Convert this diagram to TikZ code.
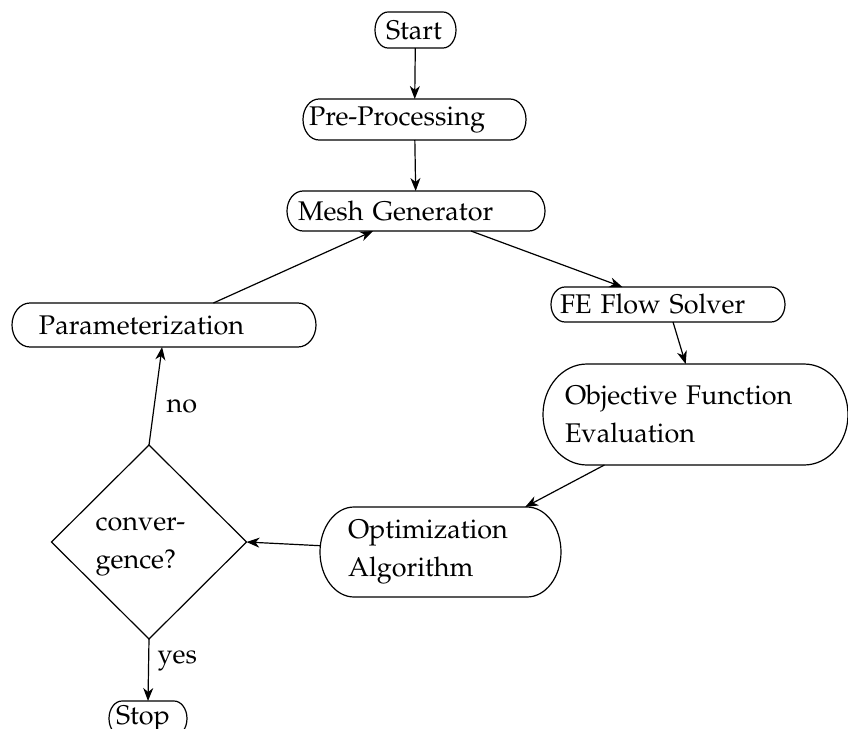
\documentclass[tikz,border=0pt]{standalone}
\usepackage[T1]{fontenc}
\renewcommand{\rmdefault}{ppl}
\usetikzlibrary{arrows.meta,shapes.geometric}

% Outline of a box with half-elliptic ends: node, horizontal radius, vertical radius (pt)
\newcommand\stadiumline[3]{%
  \draw ([xshift=#2pt]#1.north west) -- ([xshift=-#2pt]#1.north east)
    arc[start angle=90, end angle=-90, x radius=#2pt, y radius=#3pt]
    -- ([xshift=#2pt]#1.south west)
    arc[start angle=270, end angle=90, x radius=#2pt, y radius=#3pt] -- cycle;}

\begin{document}
\begin{tikzpicture}[x=0.5pt, y=-0.5pt, line width=0.6pt,
  every node/.style={font=\fontsize{13.5}{19}\selectfont},
  stadbox/.style n args={4}{rectangle, outer sep=0pt, minimum width=#1pt,
    minimum height=#2pt, inner xsep=#3pt, inner ysep=2pt, text width=#4pt, align=left},
  decision/.style={diamond, draw, inner sep=0pt, outer sep=0pt,
    minimum width=97.5pt, minimum height=97pt},
  flow/.style={-{Stealth[length=6.5pt, width=5pt, inset=2pt]}},
  edgelabel/.style={anchor=base west, inner sep=0pt}]

\useasboundingbox (0,0) rectangle (848,729);

% boxes
\node[stadbox={40.5}{18}{5.5}{29.5}]    (start) at (415.5,30)  {Start};
\node[stadbox={111.5}{20.5}{3}{105.5}]  (pre)   at (414.5,119.5) {Pre-Processing};
\node[stadbox={129}{20}{5.5}{118}]      (mesh)  at (416,211)   {Mesh Generator};
\node[stadbox={117}{17.5}{4.5}{108}]    (fe)    at (668,304.5) {FE Flow Solver};
\node[stadbox={152.5}{50.5}{11}{130.5}] (obj)   at (695.5,414.5) {Objective Function\\Evaluation};
\node[stadbox={152}{22}{13.5}{125}]     (param) at (164,325)   {Parameterization};
\node[stadbox={120.5}{45}{14}{92.5}]    (opt)   at (440.5,552) {Optimization\\Algorithm};
\node[stadbox={39}{17.5}{3.5}{32}]      (stop)  at (148,718.5) {Stop};

\stadiumline{start}{6.5}{9}
\stadiumline{pre}{8}{10.25}
\stadiumline{mesh}{8}{10}
\stadiumline{fe}{7}{8.75}
\stadiumline{obj}{22}{25.25}
\stadiumline{param}{9}{11}
\stadiumline{opt}{17}{22.5}
\stadiumline{stop}{6.5}{8.75}

% decision
\node[decision] (conv) at (149,542) {};
\node[anchor=base west, inner sep=0pt, text width=46pt, align=left] (convtext) at (95,530) {conver-\\gence?};

% connectors
\draw[flow] (start) -- (pre);
\draw[flow] (pre) -- (mesh);
\draw[flow] (mesh.-20) -- (fe.159);
\draw[flow] (fe.-74) -- (obj.101.7);
\draw[flow] (obj.-151.4) -- (opt.28);
\draw[flow] (opt.177.6) -- (conv.east);
\draw[flow] (conv.north) -- node[edgelabel, pos=0.327, xshift=6.4pt] {no} (param.-95);
\draw[flow] (conv.south) -- node[edgelabel, pos=0.387, xshift=4.2pt] {yes} (stop.north);
\draw[flow] (param.24.6) -- (mesh.-155);

\end{tikzpicture}
\end{document}
